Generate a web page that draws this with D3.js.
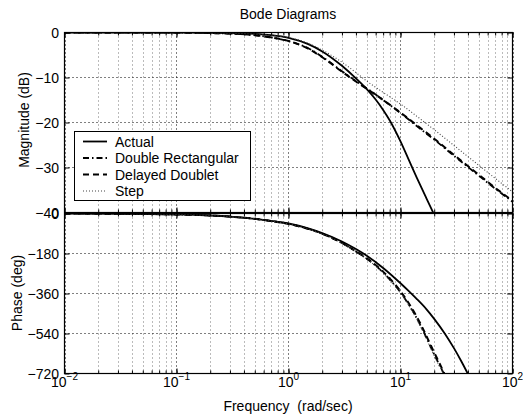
<!DOCTYPE html>
<html>
<head>
<meta charset="utf-8">
<script src="https://cdnjs.cloudflare.com/ajax/libs/d3/7.8.5/d3.min.js"></script>
<style>
	body { margin: 0; background: #fff; }
	svg { display: block; font-family: "Liberation Sans", Arial, Helvetica, sans-serif; }
</style>
</head>
<body>
<div id="chart"></div>
<script>

///////////////////////////////////////////////////////////////////////////
////////////////////////////////// Data ///////////////////////////////////
///////////////////////////////////////////////////////////////////////////

var seriesNames = ["Actual", "Double Rectangular", "Delayed Doublet", "Step"];

var freqTicks = [0.01, 0.1, 1, 10, 100];
var freqExponents = ["\u22122", "\u22121", "0", "1", "2"];
var magTicks = [0, -10, -20, -30, -40];
var phaseTicks = [0, -180, -360, -540, -720];

//Magnitude (dB)
var actualMagW  = [0.01, 0.1, 0.3, 0.5, 0.7, 1, 1.5, 2, 3, 4, 5, 6, 7, 8, 10, 12, 14, 17, 20];
var actualMagDb = [0, -0.02, -0.12, -0.3, -0.6, -1.2, -2.6, -4.2, -7.4, -10.2, -12.6, -14.9, -17.2, -19.5, -24.2, -28.6, -32.3, -36.8, -40.5];

var rectMagW  = [0.01, 0.1, 0.3, 0.5, 0.7, 1, 1.5, 2, 3, 4, 5, 7, 10, 15, 20, 30, 50, 70, 100];
var rectMagDb = [0, -0.03, -0.25, -0.6, -1.1, -1.9, -3.5, -5.4, -8.6, -10.8, -12.4, -15.0, -17.9, -21.4, -23.8, -27.4, -31.8, -34.7, -37.6];

var doubletMagW  = [0.01, 0.1, 0.3, 0.5, 0.7, 1, 1.5, 2, 3, 4, 5, 7, 10, 15, 20, 30, 50, 70, 100];
var doubletMagDb = [0, -0.03, -0.25, -0.6, -1.1, -1.9, -3.6, -5.5, -8.7, -10.9, -12.5, -15.0, -17.8, -21.2, -23.6, -27.2, -31.6, -34.5, -37.4];

var stepMagW  = [0.01, 0.1, 0.3, 0.5, 0.7, 1, 1.5, 2, 3, 4, 5, 7, 10, 15, 20, 30, 50, 70, 100];
var stepMagDb = [0, -0.02, -0.15, -0.35, -0.65, -1.1, -2.4, -3.9, -6.6, -8.9, -10.8, -13.3, -15.9, -19.2, -21.6, -25.1, -29.5, -32.4, -35.4];

//Phase (deg)
var actualPhW   = [0.01, 0.03, 0.1, 0.2, 0.3, 0.5, 0.7, 1, 1.5, 2, 3, 4, 5, 7, 10, 12, 14, 17, 20, 25, 30, 35, 40];
var actualPhDeg = [-0.4, -1.3, -4.3, -9, -14, -24, -33, -45, -67, -88, -126, -160, -190, -245, -314, -352, -385, -430, -474, -542, -606, -666, -722];

var rectPhW   = [0.01, 0.03, 0.1, 0.2, 0.3, 0.5, 0.7, 1, 1.5, 2, 3, 4, 5, 6.5, 8, 10, 12, 15, 17, 20, 22.4, 24.5];
var rectPhDeg = [-0.4, -1.3, -4.4, -9, -14, -24, -34, -47, -69, -91, -133, -171, -204, -250, -296, -355, -414, -501, -558, -634, -684, -722];

var doubletPhW   = [0.01, 0.03, 0.1, 0.2, 0.3, 0.5, 0.7, 1, 1.5, 2, 3, 4, 5, 6.5, 8, 10, 12, 15, 17, 20, 22.4, 24.7];
var doubletPhDeg = [-0.4, -1.3, -4.4, -9, -14, -24, -34, -47, -69, -91, -132, -170, -202, -247, -292, -350, -408, -494, -550, -626, -676, -722];

var stepPhW   = [0.01, 0.03, 0.1, 0.2, 0.3, 0.5, 0.7, 1, 1.5, 2, 3, 4, 5, 6.5, 8, 10, 12, 15, 17, 20, 22.4, 24.3];
var stepPhDeg = [-0.4, -1.3, -4.4, -9, -14, -24, -34, -47, -69, -92, -134, -172, -205, -252, -299, -358, -418, -506, -564, -640, -690, -722];

///////////////////////////////////////////////////////////////////////////
//////////////////// Set up and initiate svg containers ///////////////////
///////////////////////////////////////////////////////////////////////////

var width = 523,
	height = 416;

var svg = d3.select("#chart")
	.append("svg")
	.attr("width", width)
	.attr("height", height);

var x = d3.scaleLog()
	.domain([0.01, 100])
	.range([64.5, 512.5]);

var yMag = d3.scaleLinear()
	.domain([-40, 0])
	.range([212.5, 32.5]);

var yPhase = d3.scaleLinear()
	.domain([-720, 0])
	.range([373.5, 213.5]);

var styles = [
	{ dash: null, width: 1.8, color: "#000" },
	{ dash: "6,3,1.5,3", width: 1.8, color: "#000" },
	{ dash: "6,4", width: 2, color: "#000" },
	{ dash: "1,2", width: 1.1, color: "#444" }
];

function zip(ws, vs) {
	return ws.map(function(w, i) { return [w, vs[i]]; });
}

var magSeries = [
	zip(actualMagW, actualMagDb),
	zip(rectMagW, rectMagDb),
	zip(doubletMagW, doubletMagDb),
	zip(stepMagW, stepMagDb)
];

var phaseSeries = [
	zip(actualPhW, actualPhDeg),
	zip(rectPhW, rectPhDeg),
	zip(doubletPhW, doubletPhDeg),
	zip(stepPhW, stepPhDeg)
];

///////////////////////////////////////////////////////////////////////////
////////////////////////////// Draw one panel /////////////////////////////
///////////////////////////////////////////////////////////////////////////

function drawPanel(id, y, yTicks, series, showXLabels) {

	var top = y.range()[1],
		bottom = y.range()[0],
		left = x.range()[0],
		right = x.range()[1];

	var g = svg.append("g").attr("class", id);

	svg.append("defs").append("clipPath")
		.attr("id", "clip-" + id)
		.append("rect")
		.attr("x", left)
		.attr("y", top)
		.attr("width", right - left)
		.attr("height", bottom - top);

	//Vertical grid (decades and minor)
	g.selectAll(".vgrid")
		.data(x.ticks())
		.enter().append("line")
		.attr("class", "vgrid")
		.attr("x1", function(d) { return Math.round(x(d)) + 0.5; })
		.attr("x2", function(d) { return Math.round(x(d)) + 0.5; })
		.attr("y1", top)
		.attr("y2", bottom)
		.style("stroke", function(d) { return freqTicks.indexOf(d) >= 0 ? "#000" : "#777"; })
		.style("stroke-dasharray", "1,3");

	//Horizontal grid
	g.selectAll(".hgrid")
		.data(yTicks)
		.enter().append("line")
		.attr("class", "hgrid")
		.attr("x1", left)
		.attr("x2", right)
		.attr("y1", function(d) { return y(d); })
		.attr("y2", function(d) { return y(d); })
		.style("stroke", "#000")
		.style("stroke-dasharray", "1,3");

	//Inward ticks on all four sides
	g.append("g")
		.attr("transform", "translate(" + left + ",0)")
		.call(d3.axisRight(y).tickValues(yTicks).tickSize(5).tickFormat(""));
	g.append("g")
		.attr("transform", "translate(" + right + ",0)")
		.call(d3.axisLeft(y).tickValues(yTicks).tickSize(5).tickFormat(""));
	g.append("g")
		.attr("transform", "translate(0," + bottom + ")")
		.call(d3.axisTop(x).tickValues(x.ticks()).tickSize(3).tickFormat(""));
	g.append("g")
		.attr("transform", "translate(0," + top + ")")
		.call(d3.axisBottom(x).tickValues(x.ticks()).tickSize(3).tickFormat(""));
	g.append("g")
		.attr("transform", "translate(0," + bottom + ")")
		.call(d3.axisTop(x).tickValues(freqTicks).tickSize(5).tickFormat(""));
	g.append("g")
		.attr("transform", "translate(0," + top + ")")
		.call(d3.axisBottom(x).tickValues(freqTicks).tickSize(5).tickFormat(""));
	g.selectAll(".domain").remove();
	g.selectAll(".tick line").style("stroke", "#000");

	//Y tick labels
	g.selectAll(".ylabel")
		.data(yTicks)
		.enter().append("text")
		.attr("class", "ylabel")
		.attr("x", 59)
		.attr("y", function(d) { return y(d); })
		.attr("dy", "0.36em")
		.style("text-anchor", "end")
		.style("font-size", "14px")
		.text(function(d) { return d < 0 ? "\u2212" + (-d) : d; });

	//Curves
	var line = d3.line()
		.x(function(d) { return x(d[0]); })
		.y(function(d) { return y(d[1]); })
		.curve(d3.curveMonotoneX);

	g.append("g")
		.attr("clip-path", "url(#clip-" + id + ")")
		.selectAll(".curve")
		.data(series)
		.enter().append("path")
		.attr("class", "curve")
		.attr("d", line)
		.style("fill", "none")
		.style("stroke", function(d, i) { return styles[i].color; })
		.style("stroke-width", function(d, i) { return styles[i].width; })
		.style("stroke-dasharray", function(d, i) { return styles[i].dash; });

	//Frame
	g.append("rect")
		.attr("x", left)
		.attr("y", top)
		.attr("width", right - left)
		.attr("height", bottom - top)
		.style("fill", "none")
		.style("stroke", "#000")
		.style("stroke-width", 1.2);

	if (showXLabels) {
		var xl = g.selectAll(".xlabel")
			.data(freqTicks)
			.enter().append("text")
			.attr("class", "xlabel")
			.attr("x", function(d) { return x(d); })
			.attr("y", 387)
			.style("text-anchor", "middle")
			.style("font-size", "14px");
		xl.append("tspan").text("10");
		xl.append("tspan")
			.attr("dy", -7)
			.style("font-size", "10px")
			.text(function(d, i) { return freqExponents[i]; });
	}
}//drawPanel

drawPanel("mag", yMag, magTicks, magSeries, false);
drawPanel("phase", yPhase, phaseTicks, phaseSeries, true);

///////////////////////////////////////////////////////////////////////////
///////////////////////////// Titles and labels ///////////////////////////
///////////////////////////////////////////////////////////////////////////

svg.append("text")
	.attr("x", 288)
	.attr("y", 19)
	.style("text-anchor", "middle")
	.style("font-size", "14px")
	.text("Bode Diagrams");

svg.append("text")
	.attr("x", 288)
	.attr("y", 411)
	.style("text-anchor", "middle")
	.style("font-size", "14px")
	.style("white-space", "pre")
	.text("Frequency  (rad/sec)");

svg.append("text")
	.attr("transform", "translate(29,120) rotate(-90)")
	.style("text-anchor", "middle")
	.style("font-size", "14px")
	.text("Magnitude (dB)");

svg.append("text")
	.attr("transform", "translate(22,293) rotate(-90)")
	.style("text-anchor", "middle")
	.style("font-size", "14px")
	.text("Phase (deg)");

///////////////////////////////////////////////////////////////////////////
///////////////////////////////// Legend //////////////////////////////////
///////////////////////////////////////////////////////////////////////////

var legend = svg.append("g").attr("class", "legend");

legend.append("rect")
	.attr("x", 74.5)
	.attr("y", 131.5)
	.attr("width", 176)
	.attr("height", 69)
	.style("fill", "#fff")
	.style("stroke", "#000");

var rowY = d3.scalePoint()
	.domain(seriesNames)
	.range([141.5, 191]);

var rows = legend.selectAll(".row")
	.data(seriesNames)
	.enter().append("g")
	.attr("class", "row")
	.attr("transform", function(d) { return "translate(0," + rowY(d) + ")"; });

rows.append("line")
	.attr("x1", 83)
	.attr("x2", 107)
	.style("stroke", function(d, i) { return styles[i].color; })
	.style("stroke-width", function(d, i) { return styles[i].width; })
	.style("stroke-dasharray", function(d, i) { return styles[i].dash; });

rows.append("text")
	.attr("x", 115)
	.attr("dy", "0.36em")
	.style("font-size", "14px")
	.text(function(d) { return d; });

</script>
</body>
</html>
